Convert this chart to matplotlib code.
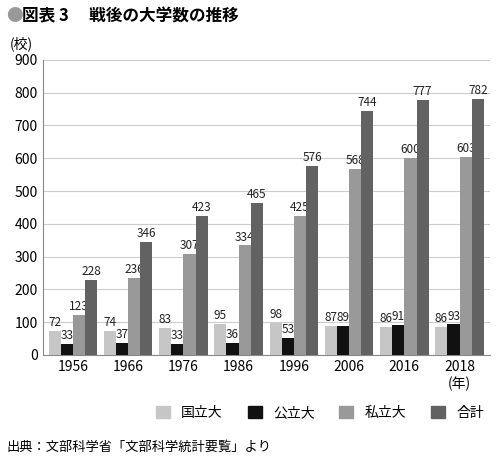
import matplotlib
matplotlib.use("Agg")
import matplotlib.pyplot as plt
import numpy as np

plt.rcParams['font.family'] = ['Noto Sans CJK JP', 'DejaVu Sans']

years = ['1956', '1966', '1976', '1986', '1996', '2006', '2016', '2018\n(年)']
national = [72, 74, 83, 95, 98, 87, 86, 86]
public = [33, 37, 33, 36, 53, 89, 91, 93]
private = [123, 236, 307, 334, 425, 568, 600, 603]
total = [228, 346, 423, 465, 576, 744, 777, 782]
series = [national, public, private, total]
names = ['国立大', '公立大', '私立大', '合計']
colors = ['#c6c6c6', '#111111', '#999999', '#626262']

fig = plt.figure(figsize=(5, 4.61), dpi=100)
ax = fig.add_axes([0.085, 0.23, 0.895, 0.64])
x = np.arange(len(years))
w = 0.22
for i, (s, c, n) in enumerate(zip(series, colors, names)):
    xs = x + (i - 1.5) * w
    ax.bar(xs, s, w, color=c, label=n, zorder=3)
    for xi, v in zip(xs, s):
        ax.text(xi, v + 6, str(v), ha='center', va='bottom', fontsize=8.5, color='#222')

ax.set_ylim(0, 900)
ax.set_yticks(range(0, 901, 100))
ax.set_xlim(-0.55, len(years) - 0.45)
ax.set_xticks(x)
ax.set_xticklabels(years, fontsize=10)
ax.tick_params(axis='y', labelsize=10, length=0)
ax.tick_params(axis='x', length=0)
ax.grid(axis='y', color='#cccccc', linewidth=0.8, zorder=0)
for sp in ['top', 'right']:
    ax.spines[sp].set_visible(False)
ax.spines['left'].set_color('#888')
ax.spines['bottom'].set_color('#888')

fig.text(0.012, 0.965, '●', color='#999999', fontsize=12, va='center')
fig.text(0.045, 0.965, '図表 3　 戦後の大学数の推移', fontsize=12, fontweight='bold', va='center')
fig.text(0.02, 0.905, '(校)', fontsize=10, va='center')

handles = [plt.Rectangle((0, 0), 1, 1, color=c) for c in colors]
fig.legend(handles, names, loc='center', bbox_to_anchor=(0.64, 0.105), ncol=4,
           frameon=False, fontsize=10, handlelength=1.0, handleheight=1.0, columnspacing=1.8)
fig.text(0.012, 0.03, '出典：文部科学省「文部科学統計要覧」より', fontsize=9.5, va='center')

fig.savefig('out.png', dpi=100)
